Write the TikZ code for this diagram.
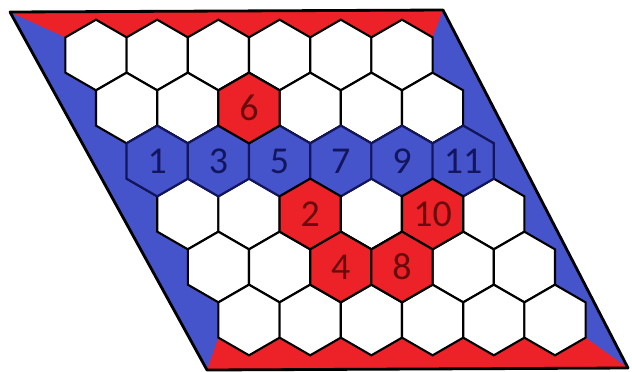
\documentclass[tikz,border=0pt]{standalone}
\usepackage{fontspec}
\newfontfamily\cellfont{Carlito}
\usepackage{tikz}
\usetikzlibrary{shapes.geometric, backgrounds}

\definecolor{hexred}{RGB}{236,34,40}
\definecolor{hexblue}{RGB}{70,84,204}
\definecolor{hexnavy}{RGB}{18,22,95}
\definecolor{hexdarkred}{RGB}{105,10,12}

\tikzset{
  cell/.style={regular polygon, regular polygon sides=6, regular polygon rotate=30,
    minimum size=1.765cm, inner sep=0pt, outer sep=0pt, draw=black, line width=1.5pt,
    fill=white, font=\cellfont\fontsize{27}{27}\selectfont},
  redcell/.style={cell, fill=hexred, text=hexdarkred},
  bluecell/.style={cell, fill=hexblue, draw=hexnavy, text=hexnavy},
}

\begin{document}
\begin{tikzpicture}[x=0.025cm, y=-0.025cm]
  \useasboundingbox (0,0) rectangle (632,371);
  % Coins du plateau
  \coordinate (tl) at (10,12);
  \coordinate (tr) at (443,10);
  \coordinate (br) at (628,368);
  \coordinate (bl) at (207,370);
  % Cases blanches
  \foreach \r in {0,...,5}
    \foreach \c in {0,...,5}
      \node[cell] (h-\r-\c) at ({96+61.2*\c+30.6*\r}, {55+53*\r}) {};
  % Rangee bleue
  \foreach \c/\n in {0/1, 1/3, 2/5, 3/7, 4/9, 5/11}
    \node[bluecell] (b\n) at (h-2-\c) {\n};
  % Cases rouges
  \foreach \r/\c/\n in {1/2/6, 3/2/2, 3/4/10, 4/2/4, 4/3/8}
    \node[redcell] (r\n) at (h-\r-\c) {\n};
  % Bords du plateau
  \begin{scope}[on background layer]
    \fill[hexblue] (tl) -- (tr) -- (br) -- (bl) -- cycle;
    \fill[hexred] (tl) -- (tr) -- (h-0-5.30) -- (h-0-0.150) -- cycle;
    \fill[hexred] (bl) -- (br) -- (h-5-5.330) -- (h-5-0.210) -- cycle;
  \end{scope}
  \draw[line width=2pt, line join=round] (tl) -- (tr) -- (br) -- (bl) -- cycle;
\end{tikzpicture}
\end{document}
